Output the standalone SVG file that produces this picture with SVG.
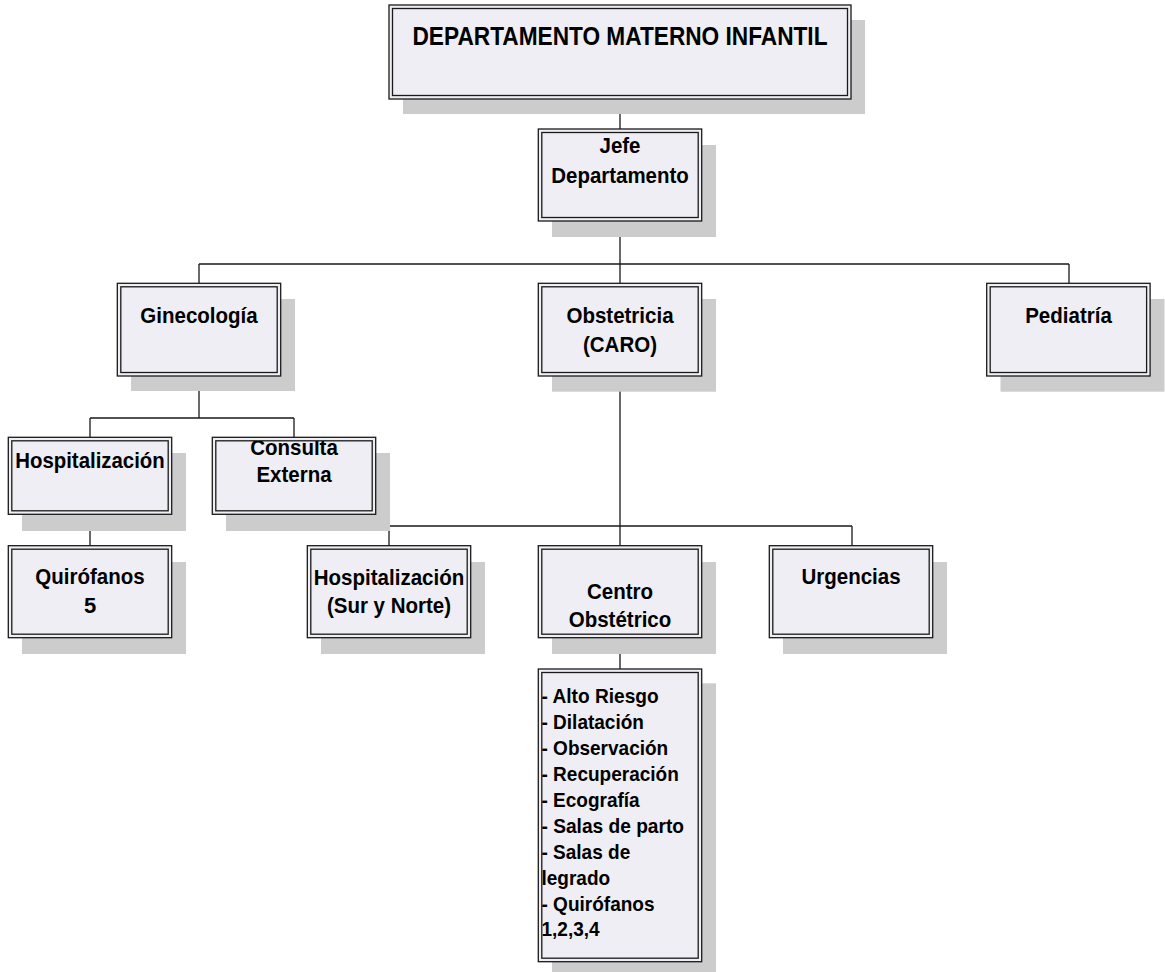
<svg xmlns="http://www.w3.org/2000/svg" width="1165" height="972" viewBox="0 0 1165 972">
<style>
.sh{fill:#cccccc}
.ob{fill:#efeef4;stroke:#1a1a1a;stroke-width:1.3}
.ib{fill:none;stroke:#1a1a1a;stroke-width:1.3}
.cn{fill:none;stroke:#1a1a1a;stroke-width:1.3}
text{font-family:"Liberation Sans",Arial,sans-serif;font-weight:bold;font-size:22px;fill:#000;text-anchor:middle}
text.t{font-size:25px}
text.l{font-size:20.5px;text-anchor:start}
</style>
<defs>
<clipPath id="cpConsulta"><rect x="216" y="441" width="156" height="70"/></clipPath>
</defs>
<g id="connectors">
<path class="cn" d="M620 99V129M620 221V264M199 264H1069M199 264V283M620 264V283M1069 264V283"/>
<path class="cn" d="M199 376V418M90 418H294M90 418V437M294 418V437M90 514V546"/>
<path class="cn" d="M620 376V526M389 526H852M389 526V546M852 526V546M620 526V546M620 638V669"/>
</g>
<g id="n-titulo">
<rect class="sh" x="403" y="20" width="462" height="94"/>
<rect class="ob" x="389" y="5" width="462" height="94"/>
<rect class="ib" x="392.5" y="8.5" width="455" height="87"/>
<text class="t" x="620" y="45" textLength="415" lengthAdjust="spacingAndGlyphs">DEPARTAMENTO MATERNO INFANTIL</text>
</g>
<g id="n-jefe">
<rect class="sh" x="552" y="145" width="164" height="92"/>
<rect class="ob" x="538.3" y="129" width="163.4" height="92"/>
<rect class="ib" x="541.8" y="132.5" width="156.4" height="85"/>
<text x="620" y="153.3" textLength="41" lengthAdjust="spacingAndGlyphs">Jefe</text>
<text x="620" y="182.7" textLength="137.5" lengthAdjust="spacingAndGlyphs">Departamento</text>
</g>
<g id="n-ginecologia">
<rect class="sh" x="131" y="299" width="164" height="92"/>
<rect class="ob" x="117.3" y="283.3" width="163.4" height="92.7"/>
<rect class="ib" x="120.8" y="286.8" width="156.4" height="85.7"/>
<text x="199" y="322.7" textLength="117.3" lengthAdjust="spacingAndGlyphs">Ginecología</text>
</g>
<g id="n-obstetricia">
<rect class="sh" x="552" y="299" width="164" height="92.7"/>
<rect class="ob" x="538.3" y="283.3" width="163.4" height="92.7"/>
<rect class="ib" x="541.8" y="286.8" width="156.4" height="85.7"/>
<text x="620" y="322.7" textLength="107.1" lengthAdjust="spacingAndGlyphs">Obstetricia</text>
<text x="620" y="351.7" textLength="74" lengthAdjust="spacingAndGlyphs">(CARO)</text>
</g>
<g id="n-pediatria">
<rect class="sh" x="1000.5" y="299" width="164" height="92.7"/>
<rect class="ob" x="986.7" y="283.3" width="163.4" height="92.7"/>
<rect class="ib" x="990.2" y="286.8" width="156.4" height="85.7"/>
<text x="1068.5" y="322.7" textLength="86.6" lengthAdjust="spacingAndGlyphs">Pediatría</text>
</g>
<g id="n-hosp-gine">
<rect class="sh" x="22" y="453" width="164" height="78"/>
<rect class="ob" x="8.3" y="437.3" width="163.4" height="77"/>
<rect class="ib" x="11.8" y="440.8" width="156.4" height="70"/>
<text x="90" y="468.3" textLength="149.5" lengthAdjust="spacingAndGlyphs">Hospitalización</text>
</g>
<g id="n-consulta">
<rect class="sh" x="226" y="453" width="164" height="78"/>
<rect class="ob" x="212.3" y="437.3" width="163.4" height="77"/>
<rect class="ib" x="215.8" y="440.8" width="156.4" height="70"/>
<g clip-path="url(#cpConsulta)">
<text x="294" y="455" textLength="87.7" lengthAdjust="spacingAndGlyphs">Consulta</text>
<text x="294" y="482.3" textLength="75.2" lengthAdjust="spacingAndGlyphs">Externa</text>
</g>
</g>
<g id="n-quirofanos5">
<rect class="sh" x="22" y="562" width="164" height="92"/>
<rect class="ob" x="8.3" y="545.7" width="163.4" height="92"/>
<rect class="ib" x="11.8" y="549.2" width="156.4" height="85"/>
<text x="90" y="584.3" textLength="109.3" lengthAdjust="spacingAndGlyphs">Quirófanos</text>
<text x="90" y="612.7">5</text>
</g>
<g id="n-hosp-obst">
<rect class="sh" x="321" y="562" width="164" height="92"/>
<rect class="ob" x="307.3" y="545.7" width="163.4" height="92"/>
<rect class="ib" x="310.8" y="549.2" width="156.4" height="85"/>
<text x="389" y="585" textLength="150.5" lengthAdjust="spacingAndGlyphs">Hospitalización</text>
<text x="389" y="613.3" textLength="124.1" lengthAdjust="spacingAndGlyphs">(Sur y Norte)</text>
</g>
<g id="n-centro">
<rect class="sh" x="552" y="562" width="164" height="92"/>
<rect class="ob" x="538.3" y="545.7" width="163.4" height="92"/>
<rect class="ib" x="541.8" y="549.2" width="156.4" height="85"/>
<text x="620" y="599" textLength="66.1" lengthAdjust="spacingAndGlyphs">Centro</text>
<text x="620" y="626.7" textLength="102.5" lengthAdjust="spacingAndGlyphs">Obstétrico</text>
</g>
<g id="n-urgencias">
<rect class="sh" x="783" y="562" width="164" height="92"/>
<rect class="ob" x="769.3" y="545.7" width="163.4" height="92"/>
<rect class="ib" x="772.8" y="549.2" width="156.4" height="85"/>
<text x="851" y="584" textLength="99.1" lengthAdjust="spacingAndGlyphs">Urgencias</text>
</g>
<g id="n-lista">
<rect class="sh" x="552" y="683.3" width="164" height="295"/>
<rect class="ob" x="538.3" y="669" width="163.4" height="292.7"/>
<rect class="ib" x="541.8" y="672.5" width="156.4" height="285.7"/>
<text class="l" x="541.5" y="703.3" textLength="117.2" lengthAdjust="spacingAndGlyphs">- Alto Riesgo</text>
<text class="l" x="541.5" y="729.2" textLength="102.4" lengthAdjust="spacingAndGlyphs">- Dilatación</text>
<text class="l" x="541.5" y="755.1" textLength="126.7" lengthAdjust="spacingAndGlyphs">- Observación</text>
<text class="l" x="541.5" y="781" textLength="137.3" lengthAdjust="spacingAndGlyphs">- Recuperación</text>
<text class="l" x="541.5" y="806.9" textLength="98.2" lengthAdjust="spacingAndGlyphs">- Ecografía</text>
<text class="l" x="541.5" y="832.8" textLength="142.5" lengthAdjust="spacingAndGlyphs">- Salas de parto</text>
<text class="l" x="541.5" y="858.7" textLength="88.7" lengthAdjust="spacingAndGlyphs">- Salas de</text>
<text class="l" x="541.5" y="884.6" textLength="68.6" lengthAdjust="spacingAndGlyphs">legrado</text>
<text class="l" x="541.5" y="910.5" textLength="113" lengthAdjust="spacingAndGlyphs">- Quirófanos</text>
<text class="l" x="541.5" y="936.4" textLength="58.1" lengthAdjust="spacingAndGlyphs">1,2,3,4</text>
</g>
</svg>
